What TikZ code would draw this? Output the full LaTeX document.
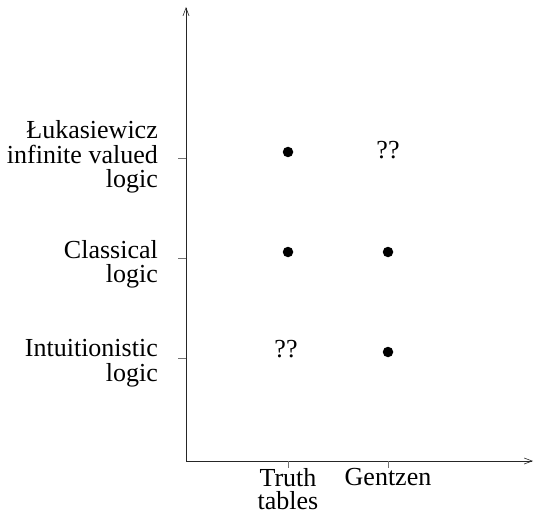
\documentclass[tikz,border=0pt]{standalone}
\usepackage{fontspec}
\setmainfont{Liberation Serif}
\usetikzlibrary{arrows.meta}
\begin{document}
\begin{tikzpicture}[x=1bp,y=-1bp,
  font=\fontsize{26bp}{24.5bp}\selectfont,
  axis/.style={line width=0.6bp, black!85},
  tickline/.style={line width=0.5bp, black!55},
  dotmark/.style={circle, fill=black, inner sep=0pt, minimum size=10.5bp},
  lbl/.style={inner sep=0pt, align=right, anchor=north east},
  blbl/.style={inner sep=0pt, align=center, anchor=north},
  qq/.style={inner sep=0pt}]
\useasboundingbox (0,0) rectangle (535,514);
% axes
\coordinate (O) at (186,461);
\coordinate (ytop) at (186,7);
\coordinate (xend) at (533,461);
\draw[axis, -{Straight Barb[length=8bp,width=6bp]}] (O) -- (ytop);
\draw[axis, -{Straight Barb[length=8bp,width=6bp]}] (O) -- (xend);
% y ticks
\coordinate (yt1a) at (178,158); \coordinate (yt1b) at (186,158);
\coordinate (yt2a) at (178,258); \coordinate (yt2b) at (186,258);
\coordinate (yt3a) at (178,358); \coordinate (yt3b) at (186,358);
\draw[tickline] (yt1a) -- (yt1b);
\draw[tickline] (yt2a) -- (yt2b);
\draw[tickline] (yt3a) -- (yt3b);
% x ticks
\coordinate (xt1a) at (288,461); \coordinate (xt1b) at (288,468);
\coordinate (xt2a) at (388,461); \coordinate (xt2b) at (388,468);
\draw[tickline] (xt1a) -- (xt1b);
\draw[tickline] (xt2a) -- (xt2b);
% labels
\node[lbl] (luk) at (158,120.5) {Łukasiewicz\\infinite valued\\logic};
\node[lbl] (cla) at (158,240) {Classical\\logic};
\node[lbl] (int) at (158,339.5) {Intuitionistic\\logic};
\node[blbl] (tt) at (288,468.5) {Truth\\[-2bp]tables};
\node[blbl] (gen) at (388,468.5) {Gentzen};
% entries
\node[dotmark] (d1) at (288,152) {};
\node[qq] (q1) at (388,150) {??};
\node[dotmark] (d2) at (288,252) {};
\node[dotmark] (d3) at (388,252) {};
\node[qq] (q2) at (286,349) {??};
\node[dotmark] (d4) at (388,352) {};
\end{tikzpicture}
\end{document}
